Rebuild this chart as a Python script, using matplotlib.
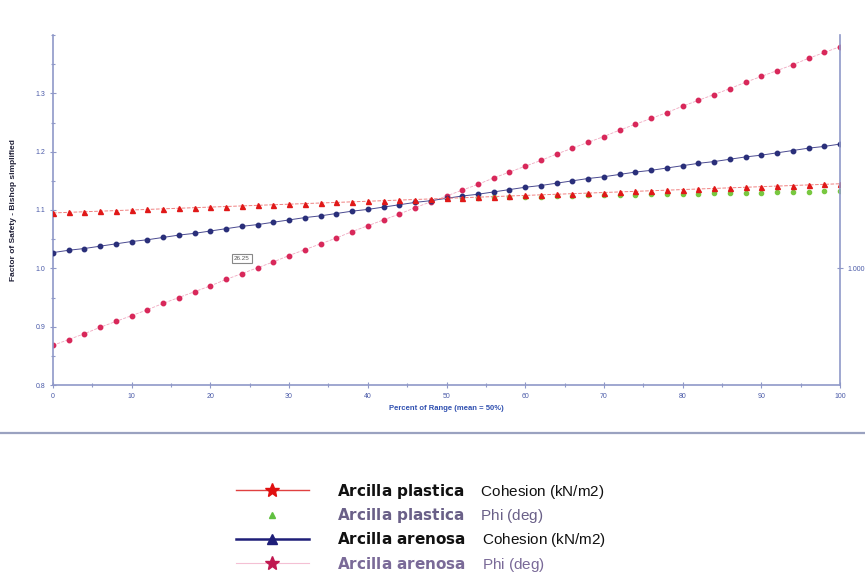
import numpy as np
import matplotlib
matplotlib.use("Agg")
import matplotlib.pyplot as plt
from matplotlib.lines import Line2D
from matplotlib.ticker import MultipleLocator, FixedLocator

plt.rcParams['font.family'] = ['Liberation Sans', 'DejaVu Sans']
plt.rcParams['mathtext.fontset'] = 'custom'
plt.rcParams['mathtext.bf'] = 'DejaVu Sans:bold'
plt.rcParams['mathtext.rm'] = 'DejaVu Sans'

# percent of range, every 2 %
pct = list(range(0, 101, 2))
pct_phi_plastica = list(range(52, 101, 2))

fs_coh_plastica = [1.095, 1.096, 1.097, 1.098, 1.099, 1.100, 1.101, 1.102, 1.103, 1.104,
                   1.105, 1.106, 1.107, 1.108, 1.109, 1.110, 1.111, 1.112, 1.113, 1.114,
                   1.115, 1.116, 1.117, 1.118, 1.119, 1.120, 1.121, 1.122, 1.123, 1.124,
                   1.125, 1.126, 1.127, 1.128, 1.129, 1.130, 1.131, 1.132, 1.133, 1.134,
                   1.135, 1.136, 1.137, 1.138, 1.139, 1.140, 1.141, 1.142, 1.143, 1.144,
                   1.145]
fs_phi_plastica = [1.121, 1.121, 1.122, 1.122, 1.123, 1.123, 1.124, 1.124, 1.125, 1.125,
                   1.126, 1.126, 1.127, 1.127, 1.128, 1.128, 1.129, 1.129, 1.130, 1.130,
                   1.131, 1.131, 1.131, 1.132, 1.132]
fs_coh_arenosa = [1.027, 1.031, 1.034, 1.038, 1.042, 1.046, 1.049, 1.053, 1.057, 1.060,
                  1.064, 1.068, 1.072, 1.075, 1.079, 1.083, 1.087, 1.090, 1.094, 1.098,
                  1.101, 1.105, 1.109, 1.113, 1.116, 1.120, 1.124, 1.127, 1.131, 1.135,
                  1.139, 1.142, 1.146, 1.150, 1.154, 1.157, 1.161, 1.165, 1.168, 1.172,
                  1.176, 1.180, 1.183, 1.187, 1.191, 1.194, 1.198, 1.202, 1.206, 1.209,
                  1.213]
fs_phi_arenosa = [0.868, 0.878, 0.888, 0.899, 0.909, 0.919, 0.929, 0.940, 0.950, 0.960,
                  0.970, 0.981, 0.991, 1.001, 1.011, 1.022, 1.032, 1.042, 1.052, 1.063,
                  1.073, 1.083, 1.093, 1.104, 1.114, 1.124, 1.134, 1.144, 1.155, 1.165,
                  1.175, 1.185, 1.196, 1.206, 1.216, 1.226, 1.237, 1.247, 1.257, 1.267,
                  1.278, 1.288, 1.298, 1.308, 1.319, 1.329, 1.339, 1.349, 1.360, 1.370,
                  1.380]

series_labels = [r"$\bf{Arcilla\ plastica}$    Cohesion (kN/m2)",
                 r"$\bf{Arcilla\ plastica}$    Phi (deg)",
                 r"$\bf{Arcilla\ arenosa}$    Cohesion (kN/m2)",
                 r"$\bf{Arcilla\ arenosa}$    Phi (deg)"]
label_colors = ['#111111', '#6a6088', '#111111', '#7a6a98']
note_x, note_y, note_text = 24, 1.017, "26.25"

axis_col = '#8f98c8'
tick_col = '#4a5aa8'

fig = plt.figure(figsize=(8.65, 5.77), dpi=100)
ax = fig.add_axes([53 / 865, 1 - 385 / 577, 787 / 865, 350 / 577])

ax.plot(pct, fs_phi_arenosa, color='#f0a8c0', lw=0.6, ls='--',
        marker='o', ms=3.2, mfc='#d8285a', mec='#d8285a', zorder=2)
ax.plot(pct, fs_coh_arenosa, color='#4a4a90', lw=0.7,
        marker='o', ms=3.2, mfc='#2a2f7a', mec='#2a2f7a', zorder=3)
ax.plot(pct, fs_coh_plastica, color='#f08080', lw=0.7, ls='--',
        marker='^', ms=3.6, mfc='#e01818', mec='#e01818', zorder=3)
ax.plot(pct_phi_plastica, fs_phi_plastica, ls='none',
        marker='o', ms=3.0, mfc='#78c840', mec='#78c840', zorder=2)

ax.set_xlim(0, 100)
ax.set_ylim(0.8, 1.4)
ax.xaxis.set_major_locator(MultipleLocator(10))
ax.xaxis.set_minor_locator(MultipleLocator(5))
ax.yaxis.set_major_locator(FixedLocator([0.8, 0.9, 1.0, 1.1, 1.2, 1.3]))
ax.yaxis.set_minor_locator(MultipleLocator(0.05))
ax.tick_params(axis='both', which='both', direction='inout', color=axis_col,
               labelsize=5, labelcolor=tick_col, length=4, width=0.8)
ax.tick_params(axis='both', which='minor', length=3)
for s in ['left', 'bottom']:
    ax.spines[s].set_color(axis_col)
    ax.spines[s].set_linewidth(1.2)
ax.spines['top'].set_visible(False)
ax.spines['right'].set_visible(False)

ax2 = ax.twinx()
ax2.set_ylim(ax.get_ylim())
ax2.yaxis.set_major_locator(FixedLocator([1.0]))
ax2.set_yticklabels(['1.000'])
ax2.tick_params(axis='y', direction='inout', color=axis_col, labelsize=5,
                labelcolor=tick_col, length=4, width=0.8)
for s in ['left', 'bottom', 'top']:
    ax2.spines[s].set_visible(False)
ax2.spines['right'].set_color(axis_col)
ax2.spines['right'].set_linewidth(1.2)

ax.set_xlabel("Percent of Range (mean = 50%)", fontsize=5.5, fontweight='bold',
              color='#3050b0', labelpad=4)
ax.set_ylabel("Factor of Safety - Bishop simplified", fontsize=6, fontweight='bold',
              color='#202038', labelpad=13)

ax.text(note_x, note_y, note_text, fontsize=4.5, color='#555555', ha='center', va='center',
        bbox=dict(boxstyle='square,pad=0.3', fc='white', ec='#888888', lw=0.8))

# separator under the plot
fig.add_artist(Line2D([0, 1], [1 - 433 / 577] * 2, transform=fig.transFigure,
                      color='#9aa2c0', lw=1.6))

handles = [
    Line2D([], [], color='#e04040', lw=1.0, marker='*', ms=10, mfc='#e01010', mec='#e01010'),
    Line2D([], [], ls='none', marker='^', ms=5, mfc='#60c040', mec='#60c040'),
    Line2D([], [], color='#1e1e78', lw=1.8, marker='^', ms=7, mfc='#1e1e78', mec='#1e1e78'),
    Line2D([], [], color='#f4c0d4', lw=0.8, marker='*', ms=10, mfc='#c01850', mec='#c01850'),
]
leg = fig.legend(handles, series_labels, loc='upper left',
                 bbox_to_anchor=(222 / 865, 1 - 468 / 577), frameon=False,
                 fontsize=11, handlelength=4.8, handletextpad=1.8, labelspacing=0.35)
for t, c in zip(leg.get_texts(), label_colors):
    t.set_color(c)

fig.savefig("out.png", dpi=100)
